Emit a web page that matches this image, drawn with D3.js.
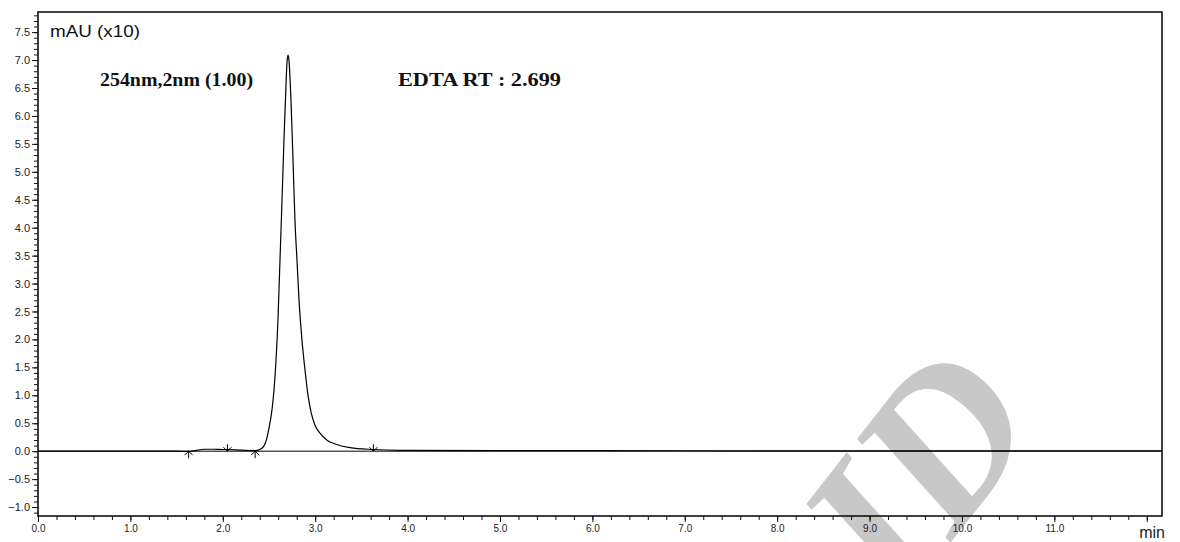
<!DOCTYPE html>
<html>
<head>
<meta charset="utf-8">
<script src="https://cdn.jsdelivr.net/npm/d3@7"></script>
<style>
  body { margin: 0; background: #fff; }
  svg { display: block; }
</style>
</head>
<body>
<div id="chart"></div>
<script>
// chromatogram trace (min, mAU x10)
const timeMin = [0.0, 0.5, 1.0, 1.5, 1.63, 1.70, 1.80, 1.90, 2.00, 2.05, 2.20, 2.35, 2.424,
  2.468, 2.500, 2.532, 2.554, 2.576, 2.597, 2.619, 2.641, 2.662, 2.684, 2.695, 2.706,
  2.716, 2.738, 2.760, 2.781, 2.803, 2.825, 2.857, 2.890, 2.922, 2.955, 2.998, 3.052,
  3.128, 3.225, 3.377, 3.626, 3.918, 5.0, 7.0, 9.0, 11.0, 12.16];
const signal = [0.0, 0.0, 0.0, 0.0, -0.005, 0.01, 0.035, 0.035, 0.03, 0.03, 0.02, 0.01, 0.054,
  0.179, 0.412, 0.734, 1.092, 1.629, 2.345, 3.418, 4.492, 5.566, 6.551, 6.963, 7.088,
  6.999, 6.283, 5.209, 4.135, 3.419, 2.703, 1.987, 1.450, 1.002, 0.698, 0.465, 0.322,
  0.197, 0.125, 0.063, 0.030, 0.015, 0.010, 0.008, 0.006, 0.005, 0.005];

// integration marks: time and which way the arrow points
const markTime = [1.63, 2.05, 2.35, 3.63];
const markDir = ["up", "down", "up", "down"];

const yMajor = [-1.0, -0.5, 0.0, 0.5, 1.0, 1.5, 2.0, 2.5, 3.0, 3.5, 4.0, 4.5, 5.0, 5.5, 6.0, 6.5, 7.0, 7.5];
const xMajor = [0, 1, 2, 3, 4, 5, 6, 7, 8, 9, 10, 11, 12];
const xLabels = ["0.0", "1.0", "2.0", "3.0", "4.0", "5.0", "6.0", "7.0", "8.0", "9.0", "10.0", "11.0", ""];

const width = 1180, height = 542;
const margin = { top: 12, right: 18, bottom: 26, left: 38 };

const svg = d3.select("#chart")
  .append("svg")
    .attr("width", width)
    .attr("height", height);

const xScale = d3.scaleLinear()
  .domain([0, 12.165])
  .range([margin.left, width - margin.right]);

const yScale = d3.scaleLinear()
  .domain([-1.16, 7.86])
  .range([height - margin.bottom, margin.top]);

// watermark sits behind everything
svg.append("text")
  .attr("transform", "translate(1045,422) rotate(-52)")
  .attr("text-anchor", "end")
  .style("font-family", "'Liberation Serif', serif")
  .style("font-weight", "bold")
  .style("font-style", "italic")
  .style("font-size", "210px")
  .style("fill", "#c8c8c8")
  .text("VALID");

// y axis, ticks every 0.1, labels every 0.5
const yMinor = d3.range(-11, 79).map(d => d / 10);
const yAxis = svg.append("g")
  .attr("transform", "translate(" + margin.left + ",0)");

yAxis.call(d3.axisLeft(yScale).tickValues(yMinor).tickSize(4).tickFormat(""));
yAxis.append("g")
  .call(d3.axisLeft(yScale).tickValues(yMajor).tickSize(6).tickPadding(2).tickFormat(d3.format(".1f")));
yAxis.selectAll(".domain").remove();
yAxis.selectAll("line").attr("stroke", "#111");
yAxis.selectAll("text")
  .style("font-family", "'Liberation Sans', Arial, sans-serif")
  .style("font-size", "11px")
  .attr("fill", "#222");

// x axis, ticks every 0.2
const xMinor = d3.range(0, 61).map(d => d / 5);
const xAxis = svg.append("g")
  .attr("transform", "translate(0," + (height - margin.bottom) + ")");

xAxis.call(d3.axisBottom(xScale).tickValues(xMinor).tickSize(4).tickFormat(""));
xAxis.append("g")
  .call(d3.axisBottom(xScale).tickValues(xMajor).tickSize(6).tickPadding(3)
    .tickFormat((d, i) => xLabels[i]));
xAxis.selectAll(".domain").remove();
xAxis.selectAll("line").attr("stroke", "#111");
xAxis.selectAll("text")
  .style("font-family", "'Liberation Sans', Arial, sans-serif")
  .style("font-size", "10px")
  .attr("fill", "#222");

// frame
svg.append("rect")
  .attr("x", margin.left)
  .attr("y", margin.top)
  .attr("width", width - margin.left - margin.right)
  .attr("height", height - margin.top - margin.bottom)
  .attr("fill", "none")
  .attr("stroke", "#111")
  .attr("stroke-width", 1.6);

svg.append("text")
  .attr("x", width - margin.right + 3)
  .attr("y", height - 4)
  .attr("text-anchor", "end")
  .style("font-family", "'Liberation Sans', Arial, sans-serif")
  .style("font-size", "16px")
  .attr("fill", "#222")
  .text("min");

// integration baseline at zero
svg.append("line")
  .attr("x1", xScale(0))
  .attr("x2", xScale(12.165))
  .attr("y1", yScale(0))
  .attr("y2", yScale(0))
  .attr("stroke", "#000")
  .attr("stroke-width", 1);

// signal
const trace = timeMin.map((t, i) => [t, signal[i]]);
svg.append("path")
  .datum(trace)
  .attr("fill", "none")
  .attr("stroke", "#000")
  .attr("stroke-width", 1.2)
  .attr("d", d3.line()
    .x(d => xScale(d[0]))
    .y(d => yScale(d[1]))
    .curve(d3.curveMonotoneX));

// peak start / end marks
svg.selectAll("mymark")
  .data(markTime)
  .enter()
  .append("path")
    .attr("fill", "none")
    .attr("stroke", "#000")
    .attr("stroke-width", 1)
    .attr("d", (d, i) => {
      const x = xScale(d), y = yScale(0);
      const s = markDir[i] === "up" ? 1 : -1;
      return "M" + x + "," + (y + 7 * s) + "L" + x + "," + y +
        "M" + (x - 4) + "," + (y + 4 * s) + "L" + x + "," + y + "L" + (x + 4) + "," + (y + 4 * s);
    });

// annotations
svg.append("text")
  .attr("x", 50)
  .attr("y", 37)
  .attr("textLength", 90)
  .attr("lengthAdjust", "spacingAndGlyphs")
  .style("font-family", "'Liberation Sans', Arial, sans-serif")
  .style("font-size", "17px")
  .attr("fill", "#111")
  .text("mAU (x10)");

svg.append("text")
  .attr("x", 100)
  .attr("y", 86)
  .attr("textLength", 153)
  .attr("lengthAdjust", "spacingAndGlyphs")
  .style("font-family", "'Liberation Serif', 'Times New Roman', serif")
  .style("font-weight", "bold")
  .style("font-size", "18px")
  .attr("fill", "#111")
  .text("254nm,2nm (1.00)");

svg.append("text")
  .attr("x", 398)
  .attr("y", 86)
  .attr("textLength", 163)
  .attr("lengthAdjust", "spacingAndGlyphs")
  .style("font-family", "'Liberation Serif', 'Times New Roman', serif")
  .style("font-weight", "bold")
  .style("font-size", "18px")
  .attr("fill", "#111")
  .text("EDTA RT : 2.699");
</script>
</body>
</html>
